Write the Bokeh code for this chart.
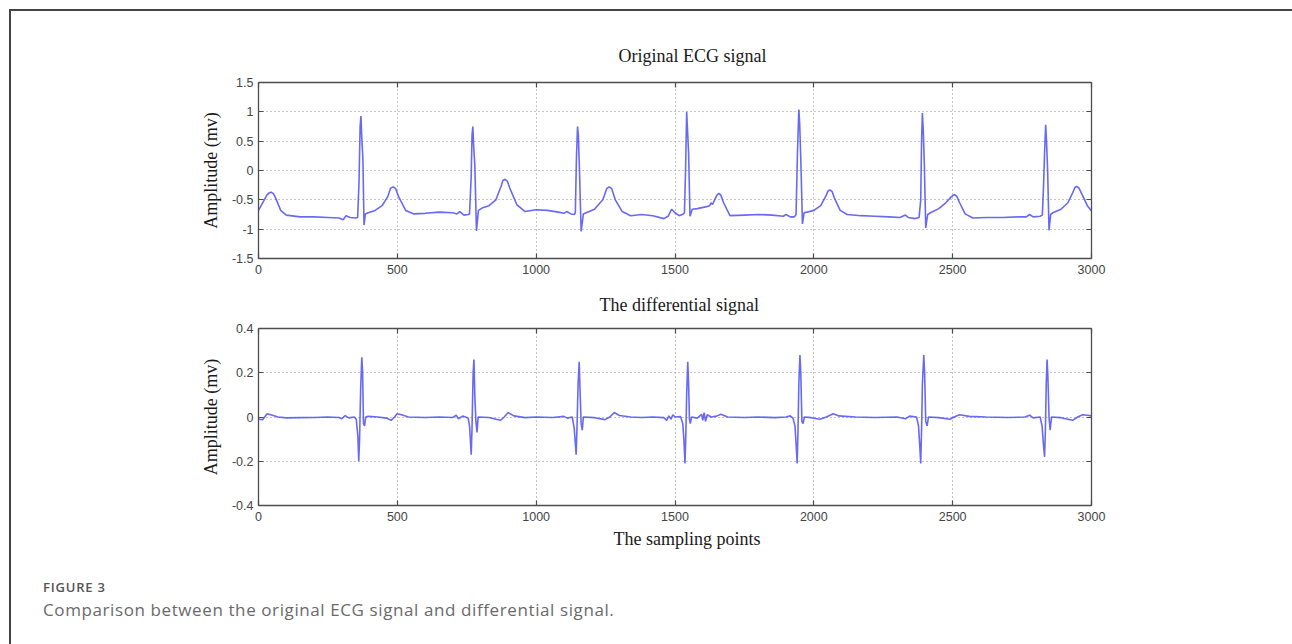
from bokeh.plotting import figure
from bokeh.layouts import column
from bokeh.models import (LinearAxis, FixedTicker, Range1d, Div, Title, Grid,
                          CustomLabelingPolicy)
from bokeh.embed import file_html
from bokeh.resources import INLINE

# ---------------- data ----------------
ecg_x = [0, 15, 30, 37, 45, 53, 60, 80, 100, 150, 200, 250, 290, 305, 315, 330, 350,
         357, 362, 366, 369, 372, 376, 380, 385, 395,
         420, 445, 465, 476, 485, 494, 505, 530, 560, 600, 650, 700, 715, 725, 740, 755,
         760, 766, 769, 772, 775, 779, 785, 792, 805,
         830, 855, 875, 880, 888, 896, 905, 930, 960, 1000, 1040, 1080, 1100, 1110, 1125, 1137,
         1141, 1145, 1149, 1152, 1156, 1162, 1170, 1180,
         1210, 1240, 1254, 1263, 1272, 1285, 1310, 1340, 1380, 1420, 1460, 1475, 1488, 1500, 1515, 1530,
         1534, 1538, 1542, 1545, 1549, 1554, 1562, 1580, 1610, 1625, 1630, 1635,
         1645, 1651, 1658, 1665, 1675, 1698, 1750, 1800, 1850, 1890, 1900, 1915, 1930,
         1936, 1941, 1946, 1949, 1953, 1959, 1965, 1975, 2000, 2025,
         2045, 2051, 2058, 2066, 2075, 2095, 2120, 2170, 2220, 2270, 2310, 2330, 2340, 2365, 2379,
         2385, 2388, 2391, 2394, 2398, 2403, 2410, 2420, 2450, 2475, 2495,
         2500, 2507, 2515, 2525, 2545, 2573, 2620, 2680, 2740, 2765, 2777, 2790, 2815, 2823,
         2827, 2831, 2835, 2838, 2842, 2847, 2853, 2861, 2890, 2915, 2935, 2940, 2947, 2955, 2965, 2985, 3000]
ecg_y = [-0.68, -0.55, -0.42, -0.385, -0.37, -0.39, -0.45, -0.68, -0.76, -0.79, -0.79, -0.80, -0.81, -0.84, -0.77, -0.80, -0.81,
         -0.80, -0.20, 0.75, 0.93, 0.55, 0.20, -0.93, -0.74, -0.72,
         -0.68, -0.60, -0.45, -0.30, -0.28, -0.31, -0.45, -0.68, -0.74, -0.73, -0.71, -0.72, -0.74, -0.70, -0.76, -0.75,
         -0.74, -0.10, 0.60, 0.75, 0.40, 0.10, -1.03, -0.68, -0.64,
         -0.60, -0.50, -0.25, -0.17, -0.15, -0.18, -0.30, -0.58, -0.70, -0.67, -0.68, -0.71, -0.73, -0.70, -0.74, -0.75,
         -0.72, 0.20, 0.75, 0.60, 0.00, -1.04, -0.74, -0.72,
         -0.66, -0.50, -0.31, -0.28, -0.31, -0.50, -0.70, -0.77, -0.75, -0.77, -0.82, -0.78, -0.66, -0.72, -0.77, -0.74,
         -0.72, 0.00, 1.00, 0.70, 0.30, -0.78, -0.66, -0.65, -0.62, -0.60, -0.55, -0.58,
         -0.48, -0.42, -0.39, -0.42, -0.55, -0.77, -0.76, -0.75, -0.76, -0.78, -0.75, -0.79, -0.79,
         -0.75, 0.30, 1.04, 0.80, 0.20, -0.91, -0.72, -0.71, -0.68, -0.60,
         -0.42, -0.35, -0.33, -0.36, -0.48, -0.68, -0.75, -0.77, -0.78, -0.79, -0.80, -0.76, -0.80, -0.82, -0.80,
         -0.50, 0.50, 0.98, 0.70, 0.10, -0.98, -0.75, -0.72, -0.65, -0.55, -0.45,
         -0.43, -0.41, -0.44, -0.55, -0.74, -0.81, -0.80, -0.80, -0.79, -0.79, -0.75, -0.79, -0.78, -0.76,
         -0.30, 0.30, 0.78, 0.50, 0.00, -1.02, -0.75, -0.72, -0.66, -0.55, -0.35, -0.29, -0.27, -0.30, -0.40, -0.60, -0.69]

diff_x = [0, 15, 31, 50, 70, 100, 150, 200, 250, 290, 300, 312, 325, 345,
          352, 358, 361, 364, 368, 372, 375, 378, 382, 386, 395,
          430, 460, 478, 490, 499, 515, 540, 600, 650, 700, 712, 720, 735, 755,
          760, 763, 766, 769, 773, 776, 779, 783, 787, 791,
          830, 871, 885, 899, 920, 960, 1000, 1060, 1100, 1112, 1130,
          1137, 1141, 1144, 1147, 1151, 1155, 1158, 1162, 1166, 1170,
          1210, 1248, 1265, 1281, 1300, 1340, 1380, 1420, 1460, 1470, 1478, 1486, 1492, 1500, 1520,
          1528, 1532, 1536, 1539, 1542, 1546, 1549, 1552, 1555, 1560, 1580, 1596, 1600, 1605, 1610, 1616,
          1630, 1650, 1665, 1690, 1750, 1800, 1860, 1900, 1915, 1925,
          1932, 1936, 1940, 1943, 1946, 1950, 1953, 1957, 1961, 1966,
          1990, 2022, 2045, 2070, 2090, 2150, 2220, 2300, 2330, 2345, 2370,
          2377, 2381, 2385, 2388, 2391, 2396, 2399, 2403, 2408, 2413,
          2450, 2490, 2505, 2525, 2560, 2620, 2700, 2760, 2777, 2790, 2815,
          2822, 2826, 2831, 2834, 2837, 2840, 2843, 2847, 2851, 2856,
          2890, 2932, 2950, 2968, 2985, 3000]
diff_y = [-0.010, -0.012, 0.015, 0.008, 0.000, -0.004, -0.003, -0.002, 0.000, -0.002, -0.008, 0.006, -0.004, 0.000,
          -0.010, -0.090, -0.200, -0.100, 0.130, 0.270, 0.200, -0.030, -0.040, 0.000, 0.003,
          0.000, -0.005, -0.015, 0.000, 0.015, 0.010, 0.000, -0.002, 0.000, -0.002, 0.008, -0.008, 0.004, -0.005,
          -0.040, -0.100, -0.170, -0.050, 0.200, 0.260, 0.100, -0.020, -0.070, 0.000,
          -0.002, -0.015, 0.000, 0.020, 0.005, -0.003, 0.000, -0.002, 0.003, -0.005, 0.000,
          -0.050, -0.120, -0.170, -0.050, 0.150, 0.250, 0.120, -0.030, -0.060, 0.000,
          -0.003, -0.012, 0.000, 0.020, 0.007, 0.000, -0.002, 0.000, -0.003, -0.015, 0.005, -0.010, 0.010, 0.000, 0.002,
          -0.030, -0.100, -0.210, -0.080, 0.100, 0.250, 0.150, -0.010, -0.030, 0.000, -0.005, 0.012, -0.015, 0.020, -0.020, 0.010,
          0.000, 0.004, 0.012, 0.000, -0.002, 0.000, -0.003, 0.000, 0.005, -0.005,
          -0.040, -0.120, -0.210, -0.060, 0.150, 0.280, 0.200, -0.020, -0.030, 0.000,
          -0.003, -0.010, 0.000, 0.015, 0.005, 0.000, -0.002, 0.000, -0.008, 0.004, 0.000,
          -0.040, -0.120, -0.210, -0.060, 0.150, 0.280, 0.200, -0.020, -0.040, 0.000,
          -0.003, -0.010, 0.000, 0.010, 0.003, 0.000, -0.002, 0.000, 0.008, -0.004, 0.000,
          -0.040, -0.110, -0.180, -0.060, 0.150, 0.260, 0.180, 0.000, -0.060, 0.000,
          -0.003, -0.015, 0.000, 0.010, 0.008, 0.005]

x_ticks = [0, 500, 1000, 1500, 2000, 2500, 3000]
x_tick_labels = ["0", "500", "1000", "1500", "2000", "2500", "3000"]
top_y_ticks = [-1.5, -1.0, -0.5, 0.0, 0.5, 1.0, 1.5]
top_y_tick_labels = ["-1.5", "-1", "-0.5", "0", "0.5", "1", "1.5"]
bottom_y_ticks = [-0.4, -0.2, 0.0, 0.2, 0.4]
bottom_y_tick_labels = ["-0.4", "-0.2", "0", "0.2", "0.4"]

top_title = "Original ECG signal"
bottom_title = "The differential signal"
y_label = "Amplitude (mv)"
x_label = "The sampling points"
caption_label = "FIGURE 3"
caption_text = "Comparison between the original ECG signal and differential signal."

# ---------------- styling ----------------
SERIF = "Liberation Serif"
SANS = "Liberation Sans"
LINE_COLOR = "#4f4ff5"
FRAME_COLOR = "#4d4d4d"
TICK_LABEL_COLOR = "#444444"


def style_axis(ax, ticks, labels, show_labels=True):
    ax.ticker = FixedTicker(ticks=ticks)
    ax.major_label_overrides = {t: l for t, l in zip(ticks, labels)}
    ax.major_tick_in = 5
    ax.major_tick_out = 0
    ax.minor_tick_line_color = None
    ax.major_tick_line_color = FRAME_COLOR
    ax.axis_line_color = FRAME_COLOR
    ax.axis_line_width = 1.3
    ax.major_tick_line_width = 1.2
    ax.major_label_text_font = SANS
    ax.major_label_text_font_size = "12.5px"
    ax.major_label_text_color = TICK_LABEL_COLOR
    if not show_labels:
        # MATLAB-style box: ticks on the top/right edges, no labels there
        ax.major_label_policy = CustomLabelingPolicy(
            code="for (const i of indices) { indices.unset(i) }\nreturn indices")
        ax.major_label_standoff = 0


def make_panel(title, title_offset, title_standoff, xs, ys, y_min, y_max, y_ticks, y_tick_labels,
               height, border_top, border_bottom, xlabel=None):
    p = figure(width=1281, height=height,
               x_range=Range1d(0, 3000), y_range=Range1d(y_min, y_max),
               output_backend="svg", toolbar_location=None,
               min_border_left=247, min_border_right=201,
               min_border_top=border_top, min_border_bottom=border_bottom,
               x_axis_location=None, y_axis_location=None)
    p.title = Title(text=title, align="left", offset=title_offset,
                    text_font=SERIF, text_font_size="18px",
                    text_font_style="normal", text_color="#1a1a1a", standoff=title_standoff)
    p.outline_line_color = None
    p.background_fill_color = "white"
    p.border_fill_color = "white"
    p.center = [r for r in p.center if not isinstance(r, Grid)]

    bottom_ax = LinearAxis()
    style_axis(bottom_ax, x_ticks, x_tick_labels)
    bottom_ax.major_label_standoff = 6
    p.add_layout(bottom_ax, "below")

    left_ax = LinearAxis(axis_label=y_label)
    style_axis(left_ax, y_ticks, y_tick_labels)
    left_ax.major_label_standoff = 5
    left_ax.axis_label_text_font = SERIF
    left_ax.axis_label_text_font_size = "18px"
    left_ax.axis_label_text_font_style = "normal"
    left_ax.axis_label_text_color = "#1a1a1a"
    left_ax.axis_label_standoff = 8
    p.add_layout(left_ax, "left")

    top_ax = LinearAxis()
    style_axis(top_ax, x_ticks, x_tick_labels, show_labels=False)
    p.add_layout(top_ax, "above")

    right_ax = LinearAxis()
    style_axis(right_ax, y_ticks, y_tick_labels, show_labels=False)
    p.add_layout(right_ax, "right")

    p.add_layout(Grid(dimension=0, ticker=FixedTicker(ticks=x_ticks),
                      grid_line_color="#8a8a8a", grid_line_dash="1 3", grid_line_width=1))
    p.add_layout(Grid(dimension=1, ticker=FixedTicker(ticks=y_ticks),
                      grid_line_color="#8a8a8a", grid_line_dash="1 3", grid_line_width=1))

    p.line(xs, ys, line_color=LINE_COLOR, line_width=1.6, line_alpha=0.85)

    if xlabel is not None:
        p.add_layout(Title(text=xlabel, align="left", offset=355,
                           text_font=SERIF, text_font_size="18px",
                           text_font_style="normal", text_color="#1a1a1a",
                           standoff=6), "below")
    return p


p_top = make_panel(top_title, 360, 10, ecg_x, ecg_y, -1.5, 1.5, top_y_ticks, top_y_tick_labels,
                   height=271, border_top=71, border_bottom=24)
p_bottom = make_panel(bottom_title, 341, 4, diff_x, diff_y, -0.4, 0.4, bottom_y_ticks, bottom_y_tick_labels,
                      height=278, border_top=46, border_bottom=55, xlabel=x_label)

caption = Div(
    text=(f'<div style="font-family:\'Open Sans\';font-size:13px;font-weight:600;letter-spacing:0.8px;'
          f'color:#555;line-height:14px;margin:20px 0 0 32px;">{caption_label}</div>'
          f'<div style="font-family:\'Open Sans\';font-size:17px;letter-spacing:0.6px;color:#6a6a6a;'
          f'line-height:20px;margin:6px 0 0 32px;white-space:nowrap;">{caption_text}</div>'),
    width=1281, height=84, margin=(0, 0, 0, 0))

layout = column(p_top, p_bottom, caption,
                margin=(9, 0, 0, 9), spacing=0,
                styles={"border-top": "2px solid #444", "border-left": "2px solid #444",
                        "background-color": "white"})

with open("out.html", "w") as f:
    f.write(file_html(layout, INLINE))
